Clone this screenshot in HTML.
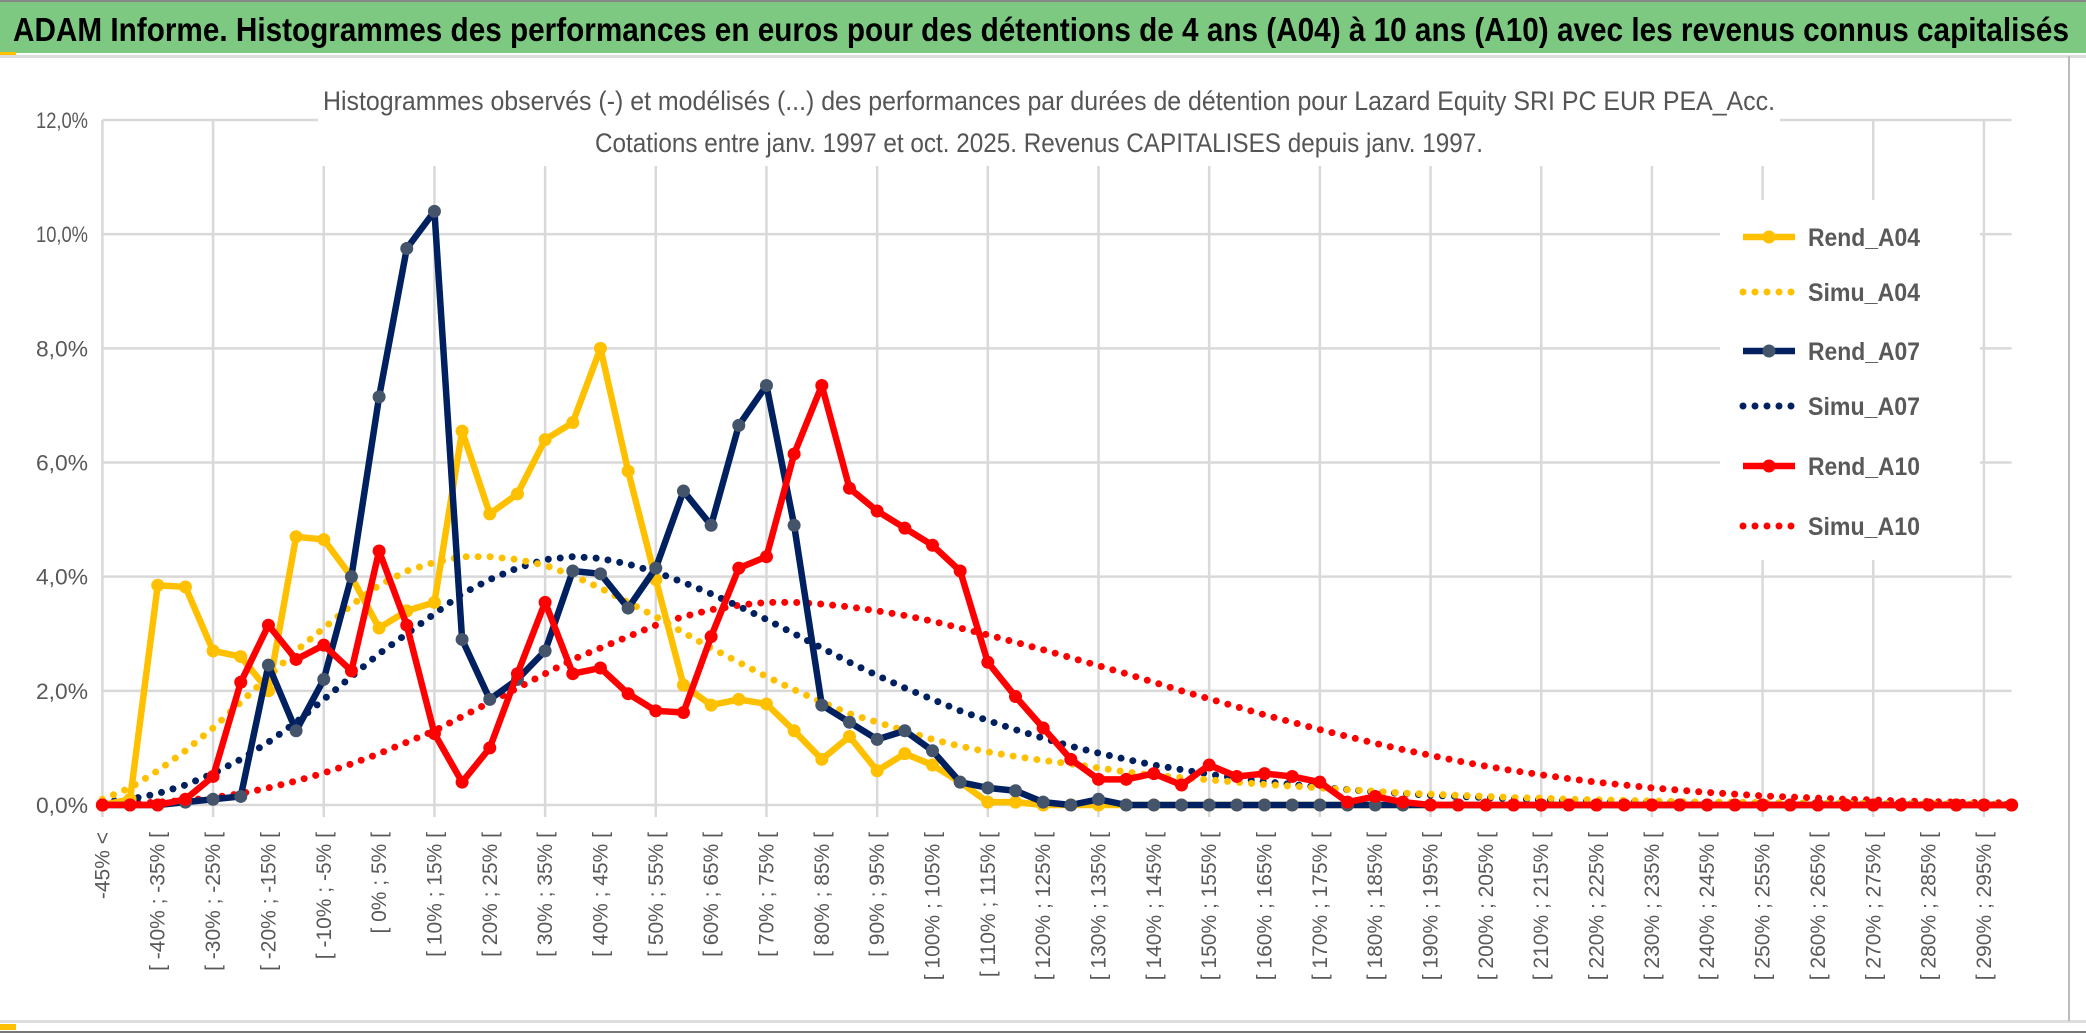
<!DOCTYPE html>
<html><head><meta charset="utf-8"><style>
html,body{margin:0;padding:0;background:#fff;width:2086px;height:1033px;overflow:hidden}
svg{display:block;font-family:"Liberation Sans",sans-serif}
</style></head><body>
<svg id="chart" width="2086" height="1033" viewBox="0 0 2086 1033">
<rect x="0" y="0" width="2086" height="1033" fill="#fff"/>
<rect x="0" y="0" width="2086" height="2" fill="#888"/>
<rect x="0" y="2" width="2086" height="51" fill="#7dc982"/>
<rect x="0" y="52" width="16" height="4" fill="#ffc000"/>
<rect x="0" y="55" width="2086" height="3" fill="#ddd"/>
<text x="13" y="41" font-size="33" font-weight="bold" fill="#000" textLength="2056" lengthAdjust="spacingAndGlyphs">ADAM Informe. Histogrammes des performances en euros pour des détentions de 4 ans (A04) à 10 ans (A10) avec les revenus connus capitalisés</text>
<g id="grid"></g>
<rect x="318" y="80" width="1462" height="86" fill="#fff"/>
<text x="1049" y="110" font-size="27" fill="#555" text-anchor="middle" textLength="1452" lengthAdjust="spacingAndGlyphs">Histogrammes observés (-) et modélisés (...) des performances par durées de détention pour Lazard Equity SRI PC EUR PEA_Acc.</text>
<text x="1039" y="152" font-size="27" fill="#555" text-anchor="middle" textLength="888" lengthAdjust="spacingAndGlyphs">Cotations entre janv. 1997 et oct. 2025. Revenus CAPITALISES depuis janv. 1997.</text>
<g id="yaxis"></g>
<g id="xaxis"></g>
<g id="series"></g>
<g id="legend"></g>
<rect x="0" y="1020" width="2086" height="3" fill="#ddd"/>
<rect x="0" y="1024" width="16" height="6" fill="#ffc000"/>
<rect x="0" y="1031" width="2086" height="2" fill="#777"/>
<rect x="2068" y="56" width="2" height="965" fill="#bbb"/>
</svg>
<script>
const yTicks = [0,2,4,6,8,10,12];
const rendA04 = [0,0.1,3.85,3.82,2.7,2.6,2.0,4.7,4.65,4.0,3.1,3.4,3.55,6.55,5.1,5.45,6.4,6.7,8.0,5.85,3.95,2.1,1.75,1.85,1.77,1.3,0.8,1.2,0.6,0.9,0.7,0.4,0.05,0.05,0,0,0,0,0,0,0,0,0,0,0,0,0,0,0,0,0,0,0,0,0,0,0,0,0,0,0,0,0,0,0,0,0,0,0,0];
const simuA04 = [0.1,0.3,0.6,0.95,1.35,1.8,2.25,2.7,3.1,3.5,3.85,4.1,4.25,4.35,4.35,4.3,4.2,4.02,3.8,3.55,3.3,3.02,2.75,2.5,2.25,2.02,1.8,1.6,1.45,1.3,1.15,1.03,0.93,0.85,0.78,0.72,0.65,0.58,0.52,0.48,0.44,0.4,0.36,0.33,0.3,0.27,0.24,0.21,0.19,0.17,0.15,0.13,0.12,0.1,0.09,0.08,0.07,0.06,0.05,0.05,0.04,0.04,0.03,0.03,0.03,0.02,0.02,0.02,0.02,0.01];
const rendA07 = [0,0,0,0.05,0.1,0.15,2.45,1.3,2.2,4.0,7.15,9.75,10.4,2.9,1.85,2.2,2.7,4.1,4.05,3.45,4.15,5.5,4.9,6.65,7.35,4.9,1.75,1.45,1.15,1.3,0.95,0.4,0.3,0.25,0.05,0,0.1,0,0,0,0,0,0,0,0,0,0,0,0,0,0,0,0,0,0,0,0,0,0,0,0,0,0,0,0,0,0,0,0,0];
const simuA07 = [0.05,0.1,0.2,0.35,0.55,0.8,1.1,1.45,1.85,2.25,2.65,3.0,3.35,3.7,3.95,4.15,4.3,4.35,4.32,4.22,4.08,3.9,3.7,3.48,3.25,3.0,2.75,2.5,2.27,2.05,1.85,1.65,1.48,1.32,1.17,1.03,0.91,0.8,0.7,0.62,0.54,0.47,0.41,0.36,0.31,0.27,0.23,0.2,0.17,0.15,0.13,0.11,0.09,0.08,0.07,0.06,0.05,0.04,0.04,0.03,0.03,0.03,0.02,0.02,0.02,0.02,0.01,0.01,0.01,0.01];
const rendA10 = [0,0,0,0.1,0.5,2.15,3.15,2.55,2.8,2.35,4.45,3.15,1.25,0.4,1.0,2.3,3.55,2.3,2.4,1.95,1.65,1.62,2.95,4.15,4.35,6.15,7.35,5.55,5.15,4.85,4.55,4.1,2.5,1.9,1.35,0.8,0.45,0.45,0.55,0.35,0.7,0.5,0.55,0.5,0.4,0.05,0.15,0.05,0,0,0,0,0,0,0,0,0,0,0,0,0,0,0,0,0,0,0,0,0,0];
const simuA10 = [0.02,0.03,0.05,0.08,0.13,0.2,0.3,0.42,0.56,0.72,0.9,1.1,1.3,1.55,1.8,2.05,2.3,2.55,2.75,2.95,3.15,3.3,3.42,3.5,3.55,3.55,3.52,3.47,3.4,3.32,3.22,3.1,2.98,2.85,2.72,2.58,2.44,2.3,2.15,2.0,1.86,1.72,1.58,1.45,1.32,1.2,1.08,0.97,0.87,0.77,0.68,0.6,0.53,0.46,0.4,0.35,0.3,0.26,0.22,0.19,0.16,0.14,0.12,0.1,0.09,0.07,0.06,0.05,0.04,0.04];
const categories = ["-45% <"];
for (let b = -45; b < 300; b += 5) categories.push("[ " + b + "% ; " + (b + 5) + "% [");

const NS = "http://www.w3.org/2000/svg";
const X0 = 102.4, X1 = 2011.6, Y0 = 805, Y12 = 120;
const n = categories.length;
function xs(i){ return X0 + i * (X1 - X0) / (n - 1); }
function ys(v){ return Y0 - v * (Y0 - Y12) / 12; }
function mk(tag, attrs, parent){ const e = document.createElementNS(NS, tag); for (const k in attrs) e.setAttribute(k, attrs[k]); parent.appendChild(e); return e; }

const grid = document.getElementById('grid');
yTicks.forEach(t => {
  const l = mk('line', {x1: X0, x2: X1, y1: ys(t), y2: ys(t), stroke: '#d9d9d9', 'stroke-width': 2.5}, grid);
  
  
});
for (let i = 0; i < n; i += 4) {
  const l = mk('line', {x1: xs(i), x2: xs(i), y1: Y12, y2: Y0 + 12, stroke: '#d9d9d9', 'stroke-width': 2.5}, grid);
  
  
}
const ya = document.getElementById('yaxis');
yTicks.forEach(t => {
  const tx = mk('text', {x: 88, y: ys(t) + 8, 'font-size': 22, fill: '#595959', 'text-anchor': 'end', textLength: 52, lengthAdjust: 'spacingAndGlyphs'}, ya);
  tx.textContent = t.toFixed(1).replace('.', ',') + '%';
  
  
});
const xa = document.getElementById('xaxis');
for (let i = 0; i < n; i += 2) {
  const tx = mk('text', {x: 0, y: 0, 'font-size': 21, fill: '#595959', 'text-anchor': 'end', transform: 'translate(' + (xs(i) + 7) + ',832) rotate(-90)'}, xa);
  tx.textContent = categories[i];
  
  
}
const ser = document.getElementById('series');
function dotted(data, color, name){
  const p = mk('polyline', {points: data.map((v,i) => xs(i) + ',' + ys(v)).join(' '), fill: 'none', stroke: color, 'stroke-width': 7, 'stroke-linecap': 'round', 'stroke-dasharray': '0 12'}, ser);
  
  
}
function solid(data, color, mcolor, name){
  const g = mk('g', {}, ser);
  
  
  mk('polyline', {points: data.map((v,i) => xs(i) + ',' + ys(v)).join(' '), fill: 'none', stroke: color, 'stroke-width': 6.5, 'stroke-linejoin': 'round'}, g);
  data.forEach((v,i) => {
    const c = mk('circle', {cx: xs(i), cy: ys(v), r: 6.5, fill: mcolor}, g);
    
    
  });
}
dotted(simuA10, '#ff0000', 'simu-a10-line');
dotted(simuA07, '#002060', 'simu-a07-line');
dotted(simuA04, '#ffc000', 'simu-a04-line');
solid(rendA04, '#ffc000', '#ffc000', 'rend-a04-line');
solid(rendA07, '#002060', '#44546a', 'rend-a07-line');
solid(rendA10, '#ff0000', '#ff0000', 'rend-a10-line');

const lg = document.getElementById('legend');
const bg = mk('rect', {x: 1720, y: 200, width: 260, height: 360, fill: '#fff'}, lg);


const legNames = ['Rend_A04','Simu_A04','Rend_A07','Simu_A07','Rend_A10','Simu_A10'];
const legColors = ['#ffc000','#ffc000','#002060','#002060','#ff0000','#ff0000'];
const legY = [237,292,351,406,466,526];
legNames.forEach((nm, k) => {
  const g = mk('g', {}, lg);
  
  
  const isSim = nm.startsWith('Simu');
  const attrs = {x1: 1743, x2: 1795, y1: legY[k], y2: legY[k], stroke: legColors[k], 'stroke-width': isSim ? 7 : 6.5, 'stroke-linecap': isSim ? 'round' : 'butt'};
  if (isSim) attrs['stroke-dasharray'] = '0 12';
  mk('line', attrs, g);
  if (!isSim) mk('circle', {cx: 1769, cy: legY[k], r: 6.5, fill: k === 2 ? '#44546a' : legColors[k]}, g);
  const t = mk('text', {x: 1808, y: legY[k] + 9, 'font-size': 25, fill: '#595959', 'font-weight': 'bold', textLength: 112, lengthAdjust: 'spacingAndGlyphs'}, g);
  t.textContent = nm;
});
</script>
</body></html>
